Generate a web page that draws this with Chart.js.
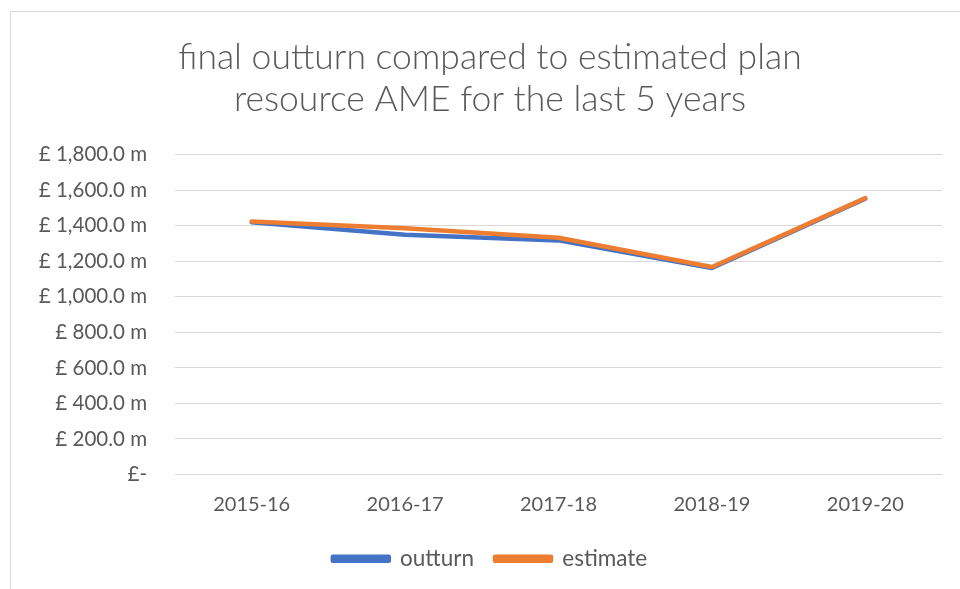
<!DOCTYPE html>
<html>
<head>
<meta charset="utf-8">
<script src="https://cdn.jsdelivr.net/npm/chart.js@4.4.0/dist/chart.umd.min.js"></script>
<style>
  html, body { margin: 0; padding: 0; background: #fff; }
  #wrap { position: absolute; left: 0; top: 0; width: 960px; height: 589px; }
</style>
</head>
<body>
<div id="wrap"><canvas id="chart"></canvas></div>
<script>
// years on the x axis
var years = ['2015-16', '2016-17', '2017-18', '2018-19', '2019-20'];
// £ million
var outturn = [1420, 1350, 1318, 1163, 1553];
var estimate = [1425, 1387, 1333, 1168, 1556];
var yTicks = [0, 200, 400, 600, 800, 1000, 1200, 1400, 1600, 1800];

var grey = '#595959';

// outer frame of the chart object
var framePlugin = {
  id: 'frame',
  beforeDraw: function(chart){
    var ctx = chart.ctx;
    ctx.save();
    ctx.strokeStyle = '#d9d9d9';
    ctx.lineWidth = 1;
    ctx.beginPath();
    ctx.moveTo(10.5, 600);
    ctx.lineTo(10.5, 11.5);
    ctx.lineTo(970, 11.5);
    ctx.stroke();
    ctx.restore();
  }
};

function fmt(v){
  if (v === 0) return '£-';
  return '£ ' + v.toLocaleString('en-GB', {minimumFractionDigits: 1, maximumFractionDigits: 1}) + ' m';
}

var ctx = document.getElementById('chart').getContext('2d');
window.resourceChart = new Chart(ctx, {
  type: 'line',
  data: {
    labels: years,
    datasets: [{
      label: 'outturn',
      data: outturn,
      borderColor: '#4472C4',
      backgroundColor: '#4472C4',
      borderWidth: 4.5,
      pointRadius: 0,
      borderCapStyle: 'round',
      borderJoinStyle: 'round',
      tension: 0,
      order: 1
    }, {
      label: 'estimate',
      data: estimate,
      borderColor: '#ED7D31',
      backgroundColor: '#ED7D31',
      borderWidth: 4.5,
      pointRadius: 0,
      borderCapStyle: 'round',
      borderJoinStyle: 'round',
      tension: 0,
      order: 0
    }]
  },
  plugins: [framePlugin],
  options: {
    responsive: true,
    maintainAspectRatio: false,
    animation: false,
    layout: { padding: { left: 38, right: 18, top: 37, bottom: 9 } },
    plugins: {
      title: {
        display: true,
        text: ['final outturn compared to estimated plan', 'resource AME for the last 5 years'],
        color: grey,
        font: { family: 'Lato', size: 35.5, weight: '300', lineHeight: 1.18 },
        padding: { top: 0, bottom: 34 }
      },
      legend: {
        position: 'bottom',
        reverse: true,
        labels: {
          color: grey,
          font: { family: 'Lato', size: 22.5 },
          boxWidth: 56,
          boxHeight: 4,
          padding: 21
        }
      },
      tooltip: { enabled: false }
    },
    scales: {
      x: {
        offset: true,
        afterFit: function(scale){ scale.height = 52; },
        grid: { display: false },
        border: { display: false },
        ticks: { color: grey, font: { family: 'Lato', size: 20 }, padding: 10 }
      },
      y: {
        min: 0,
        max: 1800,
        afterBuildTicks: function(scale){
          scale.ticks = yTicks.map(function(v){ return { value: v }; });
        },
        afterFit: function(scale){ scale.width = 137; },
        grid: { color: '#d9d9d9', lineWidth: 1, drawTicks: false },
        border: { display: false },
        ticks: {
          color: grey,
          font: { family: 'Lato', size: 20.5 },
          padding: 28,
          callback: function(v){ return fmt(v); }
        }
      }
    }
  }
});
</script>
</body>
</html>
